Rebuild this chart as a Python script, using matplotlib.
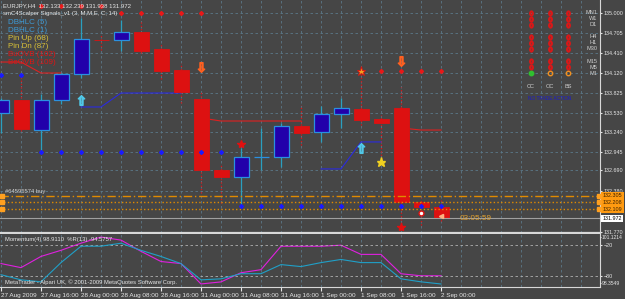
import numpy as np
import matplotlib.pyplot as plt
import matplotlib.transforms as mtransforms

plt.rcParams['font.family'] = ['Liberation Sans', 'DejaVu Sans']

# ---------------- data (EURJPY H4) ----------------
dates = ['27 Aug 2009', '27 Aug 16:00', '28 Aug 00:00', '28 Aug 08:00', '28 Aug 16:00',
         '31 Aug 00:00', '31 Aug 08:00', '31 Aug 16:00', '1 Sep 00:00', '1 Sep 08:00',
         '1 Sep 16:00', '2 Sep 00:00']

opens  = [133.525, 133.717, 133.275, 133.717, 134.100, 134.602, 134.602, 134.720, 134.470, 134.160,
          133.732, 132.685, 132.581, 132.876, 132.876, 133.334, 133.245, 133.510, 133.584, 133.437,
          133.599, 132.213, 132.133]
highs  = [133.747, 134.086, 133.806, 134.130, 134.927, 134.676, 134.897, 134.897, 134.558, 134.263,
          133.835, 132.758, 133.009, 133.304, 133.378, 133.643, 133.628, 133.747, 134.145, 133.496,
          133.909, 132.272, 132.239]
lows   = [133.230, 133.260, 132.950, 133.658, 134.040, 134.455, 134.440, 134.410, 134.027, 133.673,
          132.345, 132.198, 132.139, 132.685, 132.729, 133.053, 133.097, 133.304, 133.348, 132.803,
          131.800, 131.874, 131.938]
closes = [133.717, 133.290, 133.717, 134.100, 134.617, 134.598, 134.720, 134.440, 134.145, 133.835,
          132.685, 132.581, 132.876, 132.878, 133.334, 133.230, 133.510, 133.599, 133.422, 133.378,
          132.213, 132.139, 131.972]

nan = np.nan
blue_dots = [134.086, 134.086] + [132.950] * 10 + [132.153] * 11
red_dots = [nan, nan, 135.10, 135.10, 135.10, 135.10, 135.0, 135.0, 135.0, 135.0, 135.0,
            nan, nan, nan, nan, nan, nan, nan, nan, 134.145, 134.145, 134.145, 134.145]
blue_line = [nan, nan, nan, nan, 133.614, 133.614, 133.820, 133.820, 133.820, 133.820,
             nan, nan, nan, nan, nan, nan, 132.700, 132.700, 133.098, 133.098, nan, nan, nan]
red_line = [134.277, 134.277, 134.115, 134.115, nan, nan, nan, nan, nan, nan,
            133.452, 133.407, 133.407, 133.407, 133.407, 133.407, nan, nan, nan, nan,
            133.304, 133.274, 133.274]

pin_up_bars = [4, 18]
pin_up_px = [133.717, 133.009]
pin_dn_bars = [10, 20]
pin_dn_px = [134.204, 134.292]
red_star_bars = [12, 20]
red_star_px = [133.068, 131.844]
gold_star_bar, gold_star_px = 18, 134.145
yellow_star_bar, yellow_star_px = 19, 132.803

order_lines = [132.305, 132.208, 132.109]
bid = 131.972

momentum = [98.85, 98.54, 98.42, 99.58, 100.57, 100.57, 100.75, 100.32, 99.95, 99.52, 98.54, 98.60,
            98.91, 98.91, 99.46, 99.34, 99.58, 99.77, 99.58, 99.58, 98.60, 98.42, 98.29]
wpr = [-56, -64, -42, -30, -16, -4, -10, -32, -52, -56, -96, -92, -74, -68, -22, -22, -22, -20,
       -38, -38, -76, -80, -80]

price_ticks = [135.000, 134.705, 134.410, 134.120, 133.825, 133.530, 133.240, 132.945, 132.690,
               132.380, 131.770]

timeframes = ['MN1', 'W1', 'D1', 'H4', 'H1', 'M30', 'M15', 'M5', 'M1']
mtf_cols = ['CC', 'OC', 'BS']

# ---------------- style ----------------
BG = '#464646'
GRID = '#5b7888'
FG = '#e6e6e6'
BULL_FACE = '#2200aa'
BULL_EDGE = '#2a90e0'
BULL_WICK = '#2a9fbf'
BEAR = '#dd1111'
ORANGE = '#e08a00'

W, H = 625, 299


def rect(x0, y0, x1, y1):
    return [x0 / W, 1 - y1 / H, (x1 - x0) / W, (y1 - y0) / H]


fig = plt.figure(figsize=(W / 100, H / 100), dpi=100, facecolor=BG)
PX = mtransforms.Affine2D().scale(1 / W, -1 / H).translate(0, 1) + fig.transFigure

ax = fig.add_axes(rect(0, 0, 600, 233), facecolor=BG)
ai = fig.add_axes(rect(0, 234, 600, 287), facecolor=BG, sharex=ax)
am = ai.twinx()

x = np.arange(len(opens))
o = np.array(opens); c = np.array(closes); hi = np.array(highs); lo = np.array(lows)
up = c >= o

# grid
ax.set_xlim(-0.05, 29.95)
ax.set_ylim(131.755, 135.192)
ax.set_xticks(np.arange(0, 23, 2))
ax.set_xticks(np.arange(0, 30), minor=True)
ax.set_yticks(price_ticks)
ax.set_yticklabels(['%.3f' % t for t in price_ticks])
for a in (ax, ai):
    a.grid(True, which='both', axis='x', color=GRID, linestyle=(0, (3, 3)), linewidth=0.6)
ax.grid(True, axis='y', color=GRID, linestyle=(0, (3, 3)), linewidth=0.6)

# wicks
ax.vlines(x[up], lo[up], hi[up], color=BULL_WICK, linewidth=0.9, zorder=2)
ax.vlines(x[~up], lo[~up], hi[~up], color=BEAR, linewidth=0.9, linestyles=':', zorder=2)
# bodies
body = np.maximum(np.abs(c - o), 0.004)
ax.bar(x[up], body[up], bottom=np.minimum(o, c)[up], width=0.75, color=BULL_FACE,
       edgecolor=BULL_EDGE, linewidth=0.9, zorder=3)
ax.bar(x[~up], body[~up], bottom=np.minimum(o, c)[~up], width=0.75, color=BEAR,
       edgecolor=BEAR, linewidth=0.6, zorder=3)

# indicator lines and signals
ax.plot(x, blue_line, color='#2a2ae0', linewidth=0.8, zorder=2)
ax.plot(x, red_line, color='#e02020', linewidth=0.8, zorder=2)
ax.plot(x, blue_dots, 'D', color='#1a1aff', markersize=2, zorder=4)
ax.plot(x, red_dots, 'D', color='#e81818', markersize=2, zorder=4)
ax.plot(pin_up_bars, pin_up_px, linestyle='none', marker='$\u21e7$', color='#50c8e8',
        markersize=7, zorder=5)
ax.plot(pin_dn_bars, pin_dn_px, linestyle='none', marker='$\u21e9$', color='#ff6020',
        markersize=7, zorder=5)
ax.plot(red_star_bars, red_star_px, '*', color='#e01010', markersize=6, zorder=5)
ax.plot([gold_star_bar], [gold_star_px], '*', color='#f0a020', markeredgecolor='#e01010',
        markeredgewidth=0.6, markersize=6.5, zorder=5)
ax.plot([yellow_star_bar], [yellow_star_px], '*', color='#f0d020', markersize=6.5, zorder=5)
ax.plot([21], [132.05], 'o', color='white', markeredgecolor='#e01010', markersize=3.5, zorder=5)
ax.plot([22], [132.0], '<', color='#ffb080', markersize=3, zorder=5)

# order lines and bid
styles = [(0, (6, 2, 1, 2)), ':', ':']
blend = mtransforms.blended_transform_factory(ax.transAxes, ax.transData)
for price, ls in zip(order_lines, styles):
    ax.axhline(price, color=ORANGE, linewidth=1.0, linestyle=ls, zorder=3)
    ax.plot([0.004, 0.998], [price, price], 's', color='#ffa020', markersize=2.2,
            transform=blend, clip_on=False, zorder=6)
    ax.text(1.004, price, '%.3f' % price, transform=blend, fontsize=3.9, color='#3a2000',
            va='center', ha='left', clip_on=False,
            bbox=dict(boxstyle='square,pad=0.3', facecolor='#ff9a10', edgecolor='none'))
ax.axhline(bid, color='#a0a0a0', linewidth=0.8, zorder=3)
ax.text(1.004, bid, '%.3f' % bid, transform=blend, fontsize=3.9, color='black', va='center',
        ha='left', clip_on=False,
        bbox=dict(boxstyle='square,pad=0.2', facecolor='white', edgecolor='none'))

# axes cosmetics
for a in (ax, ai):
    for s in ('top', 'left'):
        a.spines[s].set_visible(False)
    a.spines['right'].set_color('#d8d8d8')
    a.spines['bottom'].set_color('#d8d8d8')
ax.spines['bottom'].set_linewidth(1.6)
ax.tick_params(axis='y', left=False, labelleft=False, right=True, labelright=True,
               colors=FG, labelsize=3.9, length=1.5, pad=1)
ax.tick_params(axis='x', which='both', bottom=False, labelbottom=False)

# ---------------- indicator panel ----------------
ai.set_ylim(-102, 2)
ai.plot(x, wpr, color='#e020e0', linewidth=0.8)
ai.axhline(-20, color='#b0b0b0', linestyle=(0, (3, 3)), linewidth=0.6)
ai.axhline(-80, color='#b0b0b0', linestyle=(0, (3, 3)), linewidth=0.6)
ai.set_yticks([-20, -80])
ai.yaxis.tick_right()
ai.tick_params(axis='y', left=False, labelleft=False, right=True, labelright=True,
               colors=FG, labelsize=3.9, length=1.5, pad=1)
ai.set_xticklabels(dates, ha='left')
ai.tick_params(axis='x', which='major', colors=FG, labelsize=4.6, length=3, pad=1.5)
ai.tick_params(axis='x', which='minor', length=0)

am.set_ylim(98.108, 101.306)
am.plot(x, momentum, color='#20a0c8', linewidth=0.8)
am.set_yticks([101.1214, 98.3549])
am.set_yticklabels(['101.1214', '98.3549'])
am.tick_params(axis='y', colors=FG, labelsize=3.6, length=1, pad=0.5)
for s in ('top', 'left', 'bottom', 'right'):
    am.spines[s].set_visible(False)

# ---------------- texts ----------------
fig.text(3, 5.5, 'EURJPY,H4  132.133 132.239 131.938 131.972', transform=PX, fontsize=4.3,
         color=FG, va='center')
fig.text(3, 13, 'smC4Scalper Signals_v1 (3, M,M,E, C; 14)', transform=PX, fontsize=4.3,
         color=FG, va='center')
legend_items = [('DBHLC (5)', '#3d9ad6'), ('DBHLC (1)', '#3d9ad6'), ('Pin Up (68)', '#d8c038'),
                ('Pin Dn (87)', '#d8c038'), ('BuOVB (102)', '#e01414'), ('BeOVB (109)', '#e01414')]
for i, (txt, col) in enumerate(legend_items):
    fig.text(8, 23 + i * 7.8, txt, transform=PX, fontsize=5.8, color=col, va='center')
fig.text(5, 191, '#64595574 buy', transform=PX, fontsize=4.2, color='#d0d0d0', va='center')
fig.text(460, 219, '03:05:59', transform=PX, fontsize=5.9, color='#e0a030', va='center')
fig.text(5, 240, 'Momentum(4) 98.9110  %R(13) -94.5757', transform=PX, fontsize=4.2,
         color=FG, va='center')
fig.text(5, 282, 'MetaTrader - Alpari UK, \u00a9 2001-2009 MetaQuotes Software Corp.',
         transform=PX, fontsize=4.2, color=FG, va='center')

# ---------------- multi-timeframe panel ----------------
mt = fig.add_axes(rect(520, 5, 600, 105))
mt.set_xlim(-0.595, 3.73)
mt.set_ylim(15.33, -1.33)
mt.axis('off')
rows = [i + i // 3 for i in range(len(timeframes))]
for r, tf in zip(rows, timeframes):
    mt.text(3.57, r, tf, fontsize=4.1, color='#cfcfcf', ha='right', va='center')
for j, col in enumerate(mtf_cols):
    mt.plot([j] * 8, rows[:8], linestyle='none', marker='$0$', color='#d81818', markersize=3.5)
    mt.text(j, 12.2, col, fontsize=4.1, color='#cfcfcf', ha='center', va='center')
mt.plot([0], [rows[8]], 'o', color='#30c030', markersize=3.2)
mt.plot([1, 2], [rows[8], rows[8]], 'o', markerfacecolor='none', markeredgecolor='#f09020',
        markersize=3.2)
mt.text(1, 14.2, 'NO TRADE ACTION', fontsize=3.4, color='#1a1ad0', ha='center', va='center')

fig.savefig('out.png', dpi=100, facecolor=BG)
